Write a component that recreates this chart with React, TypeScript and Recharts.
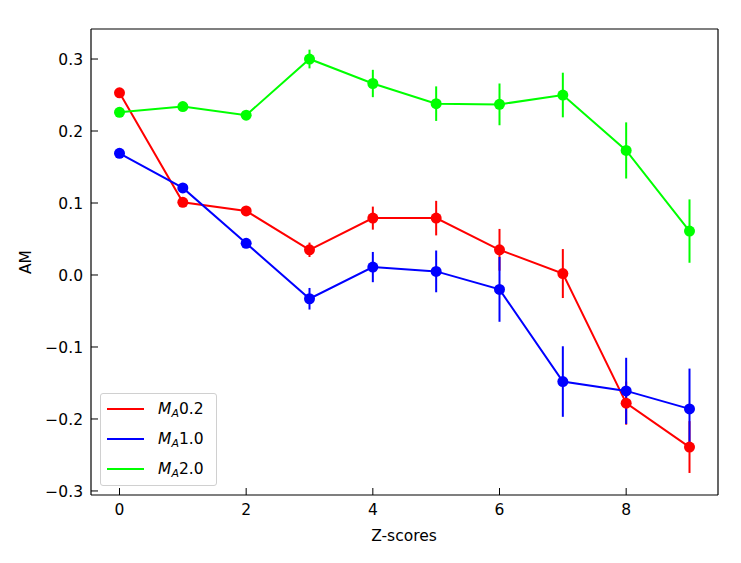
import { LineChart, Line, XAxis, YAxis, ErrorBar, Label, ReferenceLine } from 'recharts'

const zScores = [0, 1, 2, 3, 4, 5, 6, 7, 8, 9]

const ma02 = [0.253, 0.101, 0.089, 0.035, 0.079, 0.079, 0.035, 0.002, -0.178, -0.239]
const ma02Err = [0.004, 0.004, 0.004, 0.01, 0.016, 0.024, 0.029, 0.034, 0.03, 0.036]

const ma10 = [0.169, 0.121, 0.044, -0.033, 0.011, 0.005, -0.02, -0.148, -0.161, -0.186]
const ma10Err = [0.004, 0.004, 0.004, 0.015, 0.021, 0.029, 0.045, 0.049, 0.046, 0.056]

const ma20 = [0.226, 0.234, 0.222, 0.3, 0.266, 0.238, 0.237, 0.25, 0.173, 0.061]
const ma20Err = [0.004, 0.004, 0.004, 0.013, 0.019, 0.024, 0.029, 0.031, 0.039, 0.044]

const xTicks = [0, 2, 4, 6, 8]
const yTicks = [-0.3, -0.2, -0.1, 0, 0.1, 0.2, 0.3]

const xDomain = [-0.45, 9.45]
const yDomain = [-0.3056, 0.3417]

const series = [
  { key: 'ma02', err: 'ma02Err', label: '0.2', color: '#ff0000' },
  { key: 'ma10', err: 'ma10Err', label: '1.0', color: '#0000ff' },
  { key: 'ma20', err: 'ma20Err', label: '2.0', color: '#00ff00' },
]

const data = zScores.map((z, i) => ({
  z,
  ma02: ma02[i],
  ma02Err: ma02Err[i],
  ma10: ma10[i],
  ma10Err: ma10Err[i],
  ma20: ma20[i],
  ma20Err: ma20Err[i],
}))

const font = 'DejaVu Sans, sans-serif'
const fs = 15.5

const fmtY = (v: number) => {
  const s = v.toFixed(1)
  return s.startsWith('-') ? '\u2212' + s.slice(1) : s
}

const YTick = (props: any) => {
  const { x, y, payload } = props
  return (
    <g>
      <line x1={x} x2={x + 7} y1={y} y2={y} stroke="#000" strokeWidth={1} />
      <text x={x - 8} y={y} dy="0.36em" textAnchor="end" fontSize={fs} fontFamily={font} fill="#000">
        {fmtY(payload.value)}
      </text>
    </g>
  )
}

const XTick = (props: any) => {
  const { x, y, payload } = props
  return (
    <g>
      <line x1={x} x2={x} y1={y} y2={y - 7} stroke="#000" strokeWidth={1} />
      <text x={x} y={y + 20} textAnchor="middle" fontSize={fs} fontFamily={font} fill="#000">
        {payload.value}
      </text>
    </g>
  )
}

export default function App() {
  return (
    <div style={{ position: 'absolute', left: 0, top: 0, width: 741, height: 563, background: '#fff', fontFamily: font }}>
      <LineChart width={741} height={563} data={data} margin={{ top: 29, right: 23, bottom: 0, left: 0 }}>
        <XAxis
          type="number"
          dataKey="z"
          domain={xDomain}
          ticks={xTicks}
          height={68}
          tickSize={0}
          tickMargin={0}
          tickLine={false}
          axisLine={{ stroke: '#000', strokeWidth: 1.2 }}
          tick={<XTick />}
          allowDataOverflow
        >
          <Label
            content={() => (
              <text x={404} y={541} textAnchor="middle" fontSize={fs} fontFamily={font} fill="#000">
                Z-scores
              </text>
            )}
          />
        </XAxis>
        <YAxis
          type="number"
          domain={yDomain}
          ticks={yTicks}
          width={91}
          tickSize={0}
          tickMargin={0}
          tickLine={false}
          axisLine={{ stroke: '#000', strokeWidth: 1.2 }}
          tick={<YTick />}
          allowDataOverflow
        >
          <Label
            content={() => (
              <text
                x={31}
                y={262}
                textAnchor="middle"
                fontSize={fs}
                fontFamily={font}
                fill="#000"
                transform="rotate(-90 31 262)"
              >
                AM
              </text>
            )}
          />
        </YAxis>
        <ReferenceLine x={xDomain[1]} stroke="#000" strokeWidth={1.2} />
        <ReferenceLine y={yDomain[1]} stroke="#000" strokeWidth={1.2} />
        {series.map((s) => (
          <Line
            key={s.key}
            type="linear"
            dataKey={s.key}
            stroke={s.color}
            strokeWidth={2}
            dot={{ r: 5.5, fill: s.color, stroke: s.color, strokeWidth: 0 }}
            activeDot={false}
            isAnimationActive={false}
          >
            <ErrorBar dataKey={s.err} direction="y" width={0} stroke={s.color} strokeWidth={2} isAnimationActive={false} />
          </Line>
        ))}
      </LineChart>
      <div
        style={{
          position: 'absolute',
          left: 100,
          top: 393,
          width: 117,
          height: 93,
          border: '1px solid #d0d0d0',
          borderRadius: 3,
          background: 'rgba(255,255,255,0.8)',
          boxSizing: 'border-box',
        }}
      >
        {series.map((s, i) => (
          <div
            key={s.key}
            style={{ position: 'absolute', left: 0, top: 5 + i * 30, height: 20, display: 'flex', alignItems: 'center' }}
          >
            <div style={{ marginLeft: 6, width: 37, height: 2, background: s.color }} />
            <div style={{ marginLeft: 14, fontSize: fs, color: '#000', whiteSpace: 'nowrap', lineHeight: '20px' }}>
              <i>M</i>
              <sub style={{ fontSize: 11, fontStyle: 'italic', verticalAlign: -3, lineHeight: 0 }}>A</sub>
              {s.label}
            </div>
          </div>
        ))}
      </div>
    </div>
  )
}
